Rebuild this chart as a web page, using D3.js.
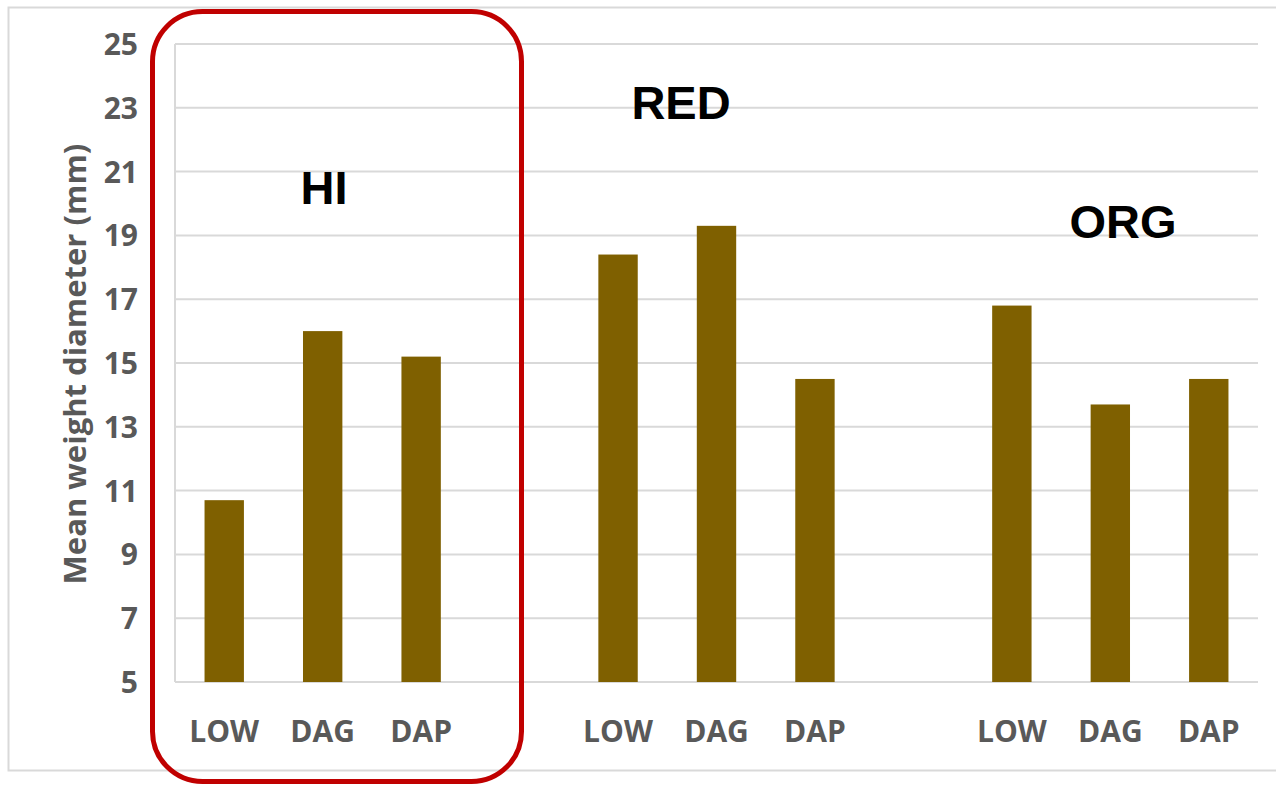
<!DOCTYPE html>
<html>
<head>
<meta charset="utf-8">
<script src="https://cdn.jsdelivr.net/npm/d3@7/dist/d3.min.js"></script>
<style>
  html, body { margin: 0; padding: 0; background: #fff; }
  svg { display: block; }
</style>
</head>
<body>
<svg id="chart" width="1276" height="785"></svg>
<script>
// Mean weight diameter by treatment, grouped by system (HI, RED, ORG)
const groups = ["HI", "RED", "ORG"];
const treatments = ["LOW", "DAG", "DAP"];
const hiValues = [10.7, 16.0, 15.2];
const redValues = [18.4, 19.3, 14.5];
const orgValues = [16.8, 13.7, 14.5];
const yTicks = [5, 7, 9, 11, 13, 15, 17, 19, 21, 23, 25];

// One slot per bar, with an empty slot separating each group
const slots = [];
[hiValues, redValues, orgValues].forEach((vals, gi) => {
  vals.forEach((v, ti) => slots.push({ key: groups[gi] + "-" + treatments[ti], group: groups[gi], label: treatments[ti], value: v }));
  if (gi < groups.length - 1) slots.push({ key: "gap" + gi, gap: true });
});

const svg = d3.select("#chart");
const plot = { left: 175, right: 1258, top: 44, bottom: 682 };

const x = d3.scaleBand().domain(slots.map(d => d.key)).range([plot.left, plot.right]).paddingInner(0.6).paddingOuter(0.3);
const y = d3.scaleLinear().domain([5, 25]).range([plot.bottom, plot.top]);

// outer chart frame
svg.append("rect").attr("x", 8.5).attr("y", 7.5).attr("width", 1280).attr("height", 763)
  .attr("fill", "#fff").attr("stroke", "#d9d9d9").attr("stroke-width", 2);

// gridlines
svg.append("g").selectAll("line").data(yTicks).join("line")
  .attr("x1", plot.left).attr("x2", plot.right)
  .attr("y1", d => y(d)).attr("y2", d => y(d))
  .attr("stroke", "#d9d9d9").attr("stroke-width", 2);

// left plot edge
svg.append("line").attr("x1", plot.left).attr("x2", plot.left).attr("y1", plot.top).attr("y2", plot.bottom)
  .attr("stroke", "#d9d9d9").attr("stroke-width", 2);

// y axis tick labels
const yAxis = d3.axisLeft(y).tickValues(yTicks).tickSize(0).tickPadding(0).tickFormat(d3.format("d"));
const ya = svg.append("g").attr("transform", `translate(138,0)`).call(yAxis);
ya.select(".domain").remove();
ya.selectAll("text").attr("font-family", "Open Sans, sans-serif").attr("font-weight", 700)
  .attr("font-size", 30).attr("fill", "#595959").attr("dy", "0.35em");

// y axis title
svg.append("text").attr("transform", "translate(86,364) rotate(-90)")
  .attr("text-anchor", "middle").attr("font-family", "Open Sans, sans-serif").attr("font-weight", 700)
  .attr("font-size", 31).attr("fill", "#595959").text("Mean weight diameter (mm)");

// bars
const bars = slots.filter(d => !d.gap);
svg.append("g").selectAll("rect").data(bars).join("rect")
  .attr("x", d => x(d.key)).attr("width", x.bandwidth())
  .attr("y", d => y(d.value)).attr("height", d => y(5) - y(d.value))
  .attr("fill", "#7f6000");

// category labels
svg.append("g").selectAll("text").data(bars).join("text")
  .attr("x", d => x(d.key) + x.bandwidth() / 2).attr("y", 742)
  .attr("text-anchor", "middle").attr("font-family", "Open Sans, sans-serif").attr("font-weight", 700)
  .attr("font-size", 30).attr("fill", "#595959").text(d => d.label);

// group names
const groupLabelPos = { HI: [324, 204], RED: [681, 119], ORG: [1123, 238] };
svg.append("g").selectAll("text").data(groups).join("text")
  .attr("x", d => groupLabelPos[d][0]).attr("y", d => groupLabelPos[d][1])
  .attr("text-anchor", "middle").attr("font-family", "Liberation Sans, Arial, sans-serif").attr("font-weight", 700)
  .attr("font-size", 47).attr("fill", "#000").text(d => d);

// highlight around the HI group
svg.append("rect").attr("x", 152.5).attr("y", 11.5).attr("width", 369).attr("height", 770).attr("rx", 50).attr("ry", 50)
  .attr("fill", "none").attr("stroke", "#c00000").attr("stroke-width", 5);
</script>
</body>
</html>
